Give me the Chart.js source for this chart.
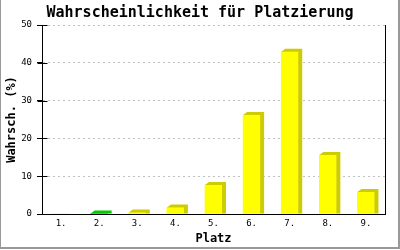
<!DOCTYPE html>
<html>
<head>
<meta charset="utf-8">
<script src="https://cdn.jsdelivr.net/npm/chart.js@4.4.0/dist/chart.umd.min.js"></script>
<style>
    body { margin: 0; background: #ffffff; }
    #wrap { width: 400px; height: 250px; position: relative; }
</style>
</head>
<body>
<div id="wrap"><canvas id="chart"></canvas></div>
<script>
// Values
const places = ['1.', '2.', '3.', '4.', '5.', '6.', '7.', '8.', '9.'];
const probabilities = [0, 0.1, 0.4, 1.7, 7.7, 26.2, 42.9, 15.6, 5.8];
const yTicks = [0, 10, 20, 30, 40, 50];
const highlightIndex = 1; // the green bar

const MONO = '"DejaVu Sans Mono", "Liberation Mono", monospace';

// Front and darker side colours per bar
const frontColors = places.map((_, i) => i === highlightIndex ? '#00ff00' : '#ffff00');
const sideColors = places.map((_, i) => i === highlightIndex ? '#00cc00' : '#cccc00');

// Draws the top face and the right side of each bar (3D look)
const bar3d = {
    id: 'bar3d',
    afterDatasetsDraw(chart) {
        const ctx = chart.ctx;
        const dx = 4, dy = 3;
        chart.getDatasetMeta(0).data.forEach((bar, i) => {
            if (!probabilities[i]) return;
            const p = bar.getProps(['x', 'y', 'base', 'width'], true);
            const l = p.x - p.width / 2;
            const r = p.x + p.width / 2;
            ctx.save();
            ctx.fillStyle = sideColors[i];
            ctx.beginPath();
            ctx.moveTo(l, p.y);
            ctx.lineTo(l + dx, p.y - dy);
            ctx.lineTo(r + dx, p.y - dy);
            ctx.lineTo(r + dx, p.base);
            ctx.lineTo(r, p.base);
            ctx.lineTo(r, p.y);
            ctx.closePath();
            ctx.fill();
            ctx.restore();
        });
    }
};

// Axis lines on top of the bars, right frame line, inner tick marks, outer grey frame
const frame = {
    id: 'frame',
    afterDraw(chart) {
        const { ctx, chartArea: a, scales: { y } } = chart;
        const L = Math.round(a.left) + 0.5;
        const R = Math.round(a.right) + 0.5;
        const B = Math.round(a.bottom) + 0.5;
        const T = Math.round(a.top);
        ctx.save();
        ctx.strokeStyle = '#000000';
        ctx.lineWidth = 1;
        ctx.beginPath();
        ctx.moveTo(L, T); ctx.lineTo(L, B);
        ctx.moveTo(L, B); ctx.lineTo(R, B);
        ctx.moveTo(R, T); ctx.lineTo(R, B);
        y.ticks.forEach(t => {
            const py = Math.round(y.getPixelForValue(t.value)) + 0.5;
            ctx.moveTo(L - 5, py);
            ctx.lineTo(L + 5, py);
        });
        ctx.stroke();

        ctx.fillStyle = '#999999';
        ctx.fillRect(0, 0, 1, 249);
        ctx.fillRect(398, 0, 2, 249);
        ctx.fillRect(0, 247, 400, 2);
        ctx.restore();
    }
};

new Chart(document.getElementById('chart'), {
    type: 'bar',
    data: {
        labels: places,
        datasets: [{
            data: probabilities,
            backgroundColor: frontColors,
            borderWidth: 0,
            barThickness: 17
        }]
    },
    options: {
        responsive: true,
        maintainAspectRatio: false,
        animation: false,
        layout: { padding: 0 },
        plugins: {
            legend: { display: false },
            tooltip: { enabled: false },
            title: {
                display: true,
                text: 'Wahrscheinlichkeit für Platzierung',
                color: '#000000',
                font: { family: MONO, size: 15, weight: 'bold' },
                padding: { top: 4, bottom: 3 }
            }
        },
        scales: {
            x: {
                afterFit: s => { s.height = 36; },
                grid: { display: false, drawTicks: false },
                border: { display: true, color: '#000000' },
                ticks: {
                    color: '#000000',
                    font: { family: MONO, size: 9 },
                    padding: 4,
                    maxRotation: 0
                },
                title: {
                    display: true,
                    text: 'Platz',
                    color: '#000000',
                    font: { family: MONO, size: 12, weight: 'bold' },
                    padding: { top: 0, bottom: 4 }
                }
            },
            y: {
                min: 0,
                max: 50,
                afterBuildTicks: s => { s.ticks = yTicks.map(v => ({ value: v })); },
                afterFit: s => { s.width = 42; },
                grid: {
                    color: '#c0c0c0',
                    lineWidth: 1,
                    tickLength: 5,
                    tickColor: '#000000',
                    tickBorderDash: []
                },
                border: { display: true, color: '#000000', dash: [2, 3] },
                ticks: {
                    color: '#000000',
                    font: { family: MONO, size: 9 },
                    padding: 5
                },
                title: {
                    display: true,
                    text: 'Wahrsch. (%)',
                    color: '#000000',
                    font: { family: MONO, size: 12, weight: 'bold' },
                    padding: { top: 5, bottom: 0 }
                }
            },
            // empty right axis: only reserves the right margin, so the title stays centred on the page
            yRight: {
                position: 'right',
                min: 0,
                max: 50,
                afterFit: s => { s.width = 15; },
                grid: { display: false, drawTicks: false },
                border: { display: false },
                ticks: { display: false }
            }
        }
    },
    plugins: [bar3d, frame]
});
</script>
</body>
</html>
